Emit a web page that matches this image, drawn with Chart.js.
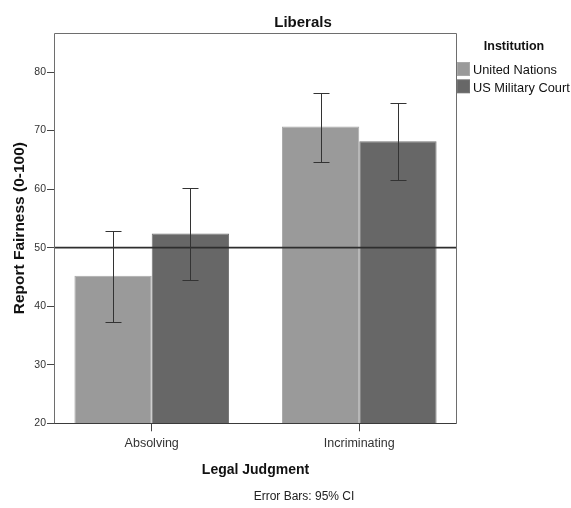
<!DOCTYPE html>
<html>
<head>
<meta charset="utf-8">
<title>Liberals</title>
<script src="https://cdn.jsdelivr.net/npm/chart.js@4.4.1/dist/chart.umd.min.js"></script>
<style>
  html, body { margin: 0; padding: 0; background: #ffffff; }
  #wrap { width: 571px; height: 508px; }
</style>
</head>
<body>
<div id="wrap"><canvas id="chart" width="571" height="508"></canvas></div>
<script>
// Legal judgment categories and the two institutions compared
const categories = ['Absolving', 'Incriminating'];
const institutions = ['United Nations', 'US Military Court'];

// Mean report fairness (0-100) with 95% confidence limits
const unMeans = [45.2, 70.7];
const unLower = [37.3, 64.7];
const unUpper = [52.9, 76.5];
const courtMeans = [52.4, 68.2];
const courtLower = [44.4, 61.6];
const courtUpper = [60.2, 74.7];

// Y axis tick values and the scale midpoint reference line
const yTicks = [20, 30, 40, 50, 60, 70, 80];
const referenceValue = 50;

const chartTitle = 'Liberals';
const legendTitle = 'Institution';
const footnote = 'Error Bars: 95% CI';

const FONT = "'Liberation Sans', Arial, Helvetica, sans-serif";
const fills = ['#9a9a9a', '#676767'];
const edges = ['#a9a9a9', '#757575'];

const intervals = [
  { lower: unLower, upper: unUpper },
  { lower: courtLower, upper: courtUpper }
];

const datasets = [unMeans, courtMeans].map((means, d) => ({
  label: institutions[d],
  data: means.map((v, i) => ({ x: i, y: v })),
  backgroundColor: fills[d],
  borderColor: edges[d],
  borderWidth: 1,
  categoryPercentage: 0.745,
  barPercentage: 1.0
}));

const crisp = v => Math.round(v) + 0.5;

const decorations = {
  id: 'decorations',
  afterDatasetsDraw(chart) {
    const { ctx, chartArea: a, scales: { y } } = chart;
    ctx.save();

    // reference line at the scale midpoint
    const ry = y.getPixelForValue(referenceValue);
    ctx.strokeStyle = '#2e2e2e';
    ctx.lineWidth = 1.6;
    ctx.beginPath();
    ctx.moveTo(a.left, ry);
    ctx.lineTo(a.right, ry);
    ctx.stroke();

    // confidence interval whiskers
    ctx.strokeStyle = '#333333';
    ctx.lineWidth = 1;
    chart.data.datasets.forEach((ds, d) => {
      const meta = chart.getDatasetMeta(d);
      meta.data.forEach((bar, i) => {
        const x = crisp(bar.x);
        const top = crisp(y.getPixelForValue(intervals[d].upper[i]));
        const bot = crisp(y.getPixelForValue(intervals[d].lower[i]));
        ctx.beginPath();
        ctx.moveTo(x, top); ctx.lineTo(x, bot);
        ctx.moveTo(x - 8, top); ctx.lineTo(x + 8, top);
        ctx.moveTo(x - 8, bot); ctx.lineTo(x + 8, bot);
        ctx.stroke();
      });
    });

    // plot frame
    const l = crisp(a.left) - 1, r = crisp(a.right), t = crisp(a.top), b = crisp(a.bottom);
    ctx.strokeStyle = '#6e6e6e';
    ctx.beginPath();
    ctx.moveTo(l, b); ctx.lineTo(l, t); ctx.lineTo(r, t); ctx.lineTo(r, b);
    ctx.stroke();
    ctx.strokeStyle = '#3a3a3a';
    ctx.beginPath();
    ctx.moveTo(l, b); ctx.lineTo(r, b);
    ctx.stroke();
    ctx.restore();
  },
  afterDraw(chart) {
    const { ctx } = chart;
    ctx.save();
    ctx.fillStyle = '#111111';
    ctx.textBaseline = 'middle';

    ctx.textAlign = 'center';
    ctx.font = 'bold 15px ' + FONT;
    ctx.fillText(chartTitle, 303, 22.5);

    // legend
    ctx.font = 'bold 12.5px ' + FONT;
    ctx.fillText(legendTitle, 514, 46.5);
    ctx.textAlign = 'left';
    ctx.font = '12.8px ' + FONT;
    chart.data.datasets.forEach((ds, d) => {
      const top = 62 + d * 17.3;
      ctx.fillStyle = ds.borderColor;
      ctx.fillRect(457, top, 13, 14);
      ctx.fillStyle = ds.backgroundColor;
      ctx.fillRect(458, top + 1, 11, 12);
      ctx.fillStyle = '#111111';
      ctx.fillText(ds.label, 473, top + 8.7);
    });

    ctx.textAlign = 'center';
    ctx.fillStyle = '#222222';
    ctx.font = '12px ' + FONT;
    ctx.fillText(footnote, 304, 497);
    ctx.restore();
  }
};

new Chart(document.getElementById('chart'), {
  type: 'bar',
  data: { datasets },
  options: {
    responsive: false,
    devicePixelRatio: 1,
    animation: false,
    layout: { padding: { top: 33, right: 115, bottom: 28, left: 0 } },
    plugins: {
      legend: { display: false },
      title: { display: false },
      tooltip: { enabled: false }
    },
    scales: {
      x: {
        type: 'linear',
        min: -0.466,
        max: 1.466,
        offset: false,
        afterBuildTicks(scale) {
          scale.ticks = categories.map((c, i) => ({ value: i }));
        },
        afterFit(scale) { scale.height = 56.7; },
        grid: { offset: false, drawOnChartArea: false, drawTicks: true, tickLength: 8, color: '#444444' },
        border: { display: false },
        ticks: {
          padding: 4.5,
          color: '#333333',
          font: { family: FONT, size: 12.5 },
          callback: v => categories[v]
        },
        title: {
          display: true,
          text: 'Legal Judgment',
          color: '#111111',
          font: { family: FONT, size: 14, weight: 'bold' },
          padding: { top: 0, bottom: 1.5 }
        }
      },
      y: {
        min: 20,
        max: 86.67,
        afterBuildTicks(scale) {
          scale.ticks = yTicks.map(v => ({ value: v }));
        },
        afterFit(scale) { scale.width = 55; },
        grid: { drawOnChartArea: false, drawTicks: true, tickLength: 8, color: '#444444' },
        border: { display: false },
        ticks: {
          padding: 1,
          color: '#333333',
          font: { family: FONT, size: 10.5 }
        },
        title: {
          display: true,
          text: 'Report Fairness (0-100)',
          color: '#111111',
          font: { family: FONT, size: 15.5, weight: 'bold' },
          padding: { top: 10, bottom: 0 }
        }
      }
    }
  },
  plugins: [decorations]
});
</script>
</body>
</html>
